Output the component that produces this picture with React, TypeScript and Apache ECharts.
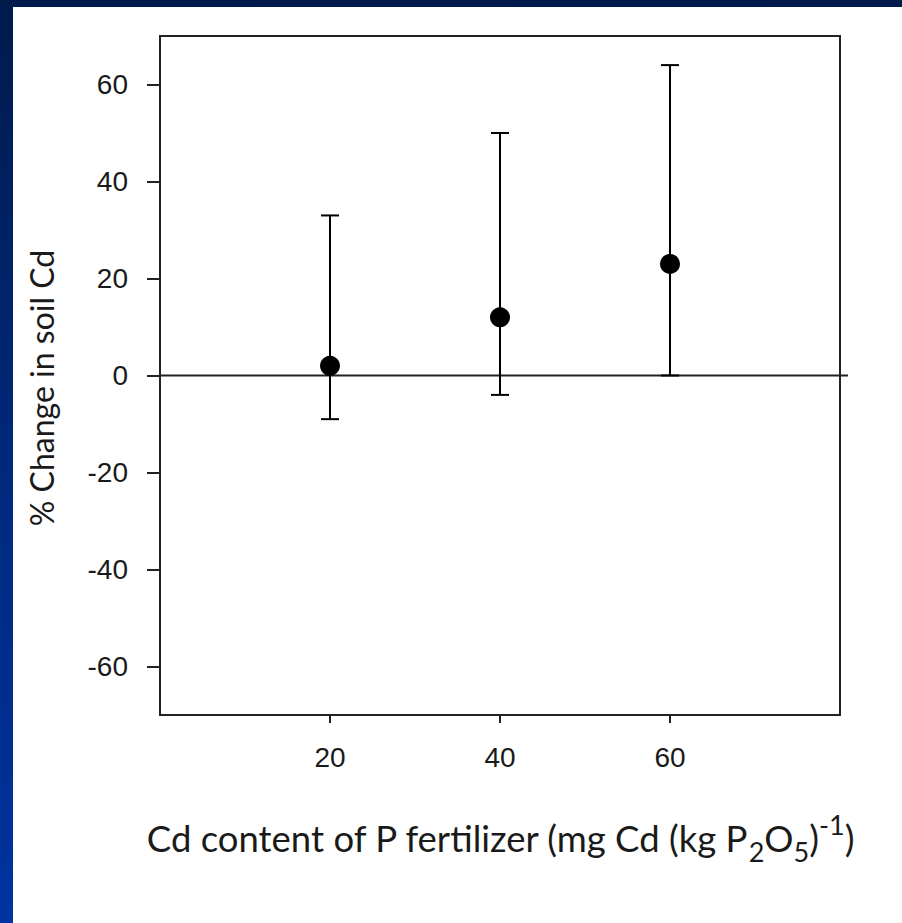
import React, { useEffect, useRef } from "react";
import * as echarts from "echarts";

const xCategories = [20, 40, 60];
const meanValues = [2, 12, 23];
const lowerValues = [-9, -4, 0];
const upperValues = [33, 50, 64];
const yTickValues = [-60, -40, -20, 0, 20, 40, 60];
const xTickValues = [20, 40, 60];
const yTitle = "% Change in soil Cd";
const xTitle = "{n|Cd content of P fertilizer (mg Cd (kg P}{sub|2}{n|O}{sub|5}{n|)}{sup|-1}{n|)}";

export default function App() {
  const ref = useRef<HTMLDivElement>(null);

  useEffect(() => {
    document.body.style.margin = "0";
    const chart = echarts.init(ref.current!, undefined, { renderer: "svg" });
    const textColor = "#1a1a1a";
    const axisColor = "#222";
    const titleFont = "Lato, sans-serif";

    const points = xCategories.map((x, i) => [x, meanValues[i]]);
    const bars = xCategories.map((x, i) => [x, lowerValues[i], upperValues[i]]);

    chart.setOption({
      animation: false,
      backgroundColor: "#ffffff",
      graphic: [
        {
          type: "text",
          x: 28,
          y: 381,
          rotation: Math.PI / 2,
          style: {
            text: yTitle,
            fontSize: 32,
            fontFamily: titleFont,
            fill: textColor,
            align: "center",
            verticalAlign: "middle",
          },
        },
        {
          type: "text",
          x: 487,
          y: 831,
          style: {
            text: xTitle,
            align: "center",
            verticalAlign: "middle",
            rich: {
              n: { fontSize: 36.5, fontFamily: titleFont, fill: textColor, lineHeight: 54 },
              sub: {
                fontSize: 27,
                fontFamily: titleFont,
                fill: textColor,
                lineHeight: 27,
                verticalAlign: "bottom",
              },
              sup: {
                fontSize: 27,
                fontFamily: titleFont,
                fill: textColor,
                lineHeight: 27,
                verticalAlign: "top",
              },
            },
          },
        },
      ],
      grid: {
        left: 147,
        top: 29,
        width: 680,
        height: 679,
        show: true,
        borderColor: axisColor,
        borderWidth: 2,
        backgroundColor: "transparent",
      },
      xAxis: {
        type: "value",
        min: 0,
        max: 80,
        interval: 20,
        splitLine: { show: false },
        axisLine: { show: true, onZero: false, lineStyle: { color: axisColor, width: 2 } },
        axisTick: {
          show: true,
          inside: false,
          length: 8,
          customValues: xTickValues,
          lineStyle: { color: axisColor, width: 2 },
        },
        axisLabel: {
          show: true,
          customValues: xTickValues,
          margin: 28,
          color: textColor,
          fontSize: 28,
          fontFamily: "Liberation Sans, Arial, sans-serif",
        },
      },
      yAxis: {
        type: "value",
        min: -70,
        max: 70,
        interval: 10,
        splitLine: { show: false },
        axisLine: { show: true, onZero: false, lineStyle: { color: axisColor, width: 2 } },
        axisTick: {
          show: true,
          inside: false,
          length: 13,
          customValues: yTickValues,
          lineStyle: { color: axisColor, width: 2 },
        },
        axisLabel: {
          show: true,
          customValues: yTickValues,
          margin: 32,
          color: textColor,
          fontSize: 28,
          fontFamily: "Liberation Sans, Arial, sans-serif",
        },
      },
      series: [
        {
          type: "custom",
          name: "zero",
          silent: true,
          data: [[0]],
          renderItem: (params: any, api: any) => {
            const start = api.coord([0, 0]);
            const end = api.coord([80, 0]);
            return {
              type: "line",
              shape: { x1: start[0], y1: start[1], x2: end[0] + 8, y2: end[1] },
              style: { stroke: axisColor, lineWidth: 2 },
            };
          },
          z: 1,
        },
        {
          type: "custom",
          name: "error",
          data: bars,
          renderItem: (params: any, api: any) => {
            const x = api.value(0);
            const lo = api.coord([x, api.value(1)]);
            const hi = api.coord([x, api.value(2)]);
            const half = 9;
            const style = { stroke: "#000", lineWidth: 2 };
            return {
              type: "group",
              children: [
                { type: "line", shape: { x1: lo[0], y1: lo[1], x2: hi[0], y2: hi[1] }, style },
                { type: "line", shape: { x1: hi[0] - half, y1: hi[1], x2: hi[0] + half, y2: hi[1] }, style },
                { type: "line", shape: { x1: lo[0] - half, y1: lo[1], x2: lo[0] + half, y2: lo[1] }, style },
              ],
            };
          },
          z: 2,
        },
        {
          type: "scatter",
          name: "mean",
          data: points,
          symbol: "circle",
          symbolSize: 20,
          itemStyle: { color: "#000", opacity: 1 },
          z: 3,
        },
      ],
    });
    return () => chart.dispose();
  }, []);

  return (
    <div
      style={{
        position: "fixed",
        left: 0,
        top: 0,
        width: 902,
        height: 923,
        background: "linear-gradient(to bottom, #001a4c 0%, #002a80 55%, #0033a0 100%)",
      }}
    >
      <div
        ref={ref}
        style={{ position: "absolute", left: 13, top: 7, width: 889, height: 916 }}
      />
    </div>
  );
}
